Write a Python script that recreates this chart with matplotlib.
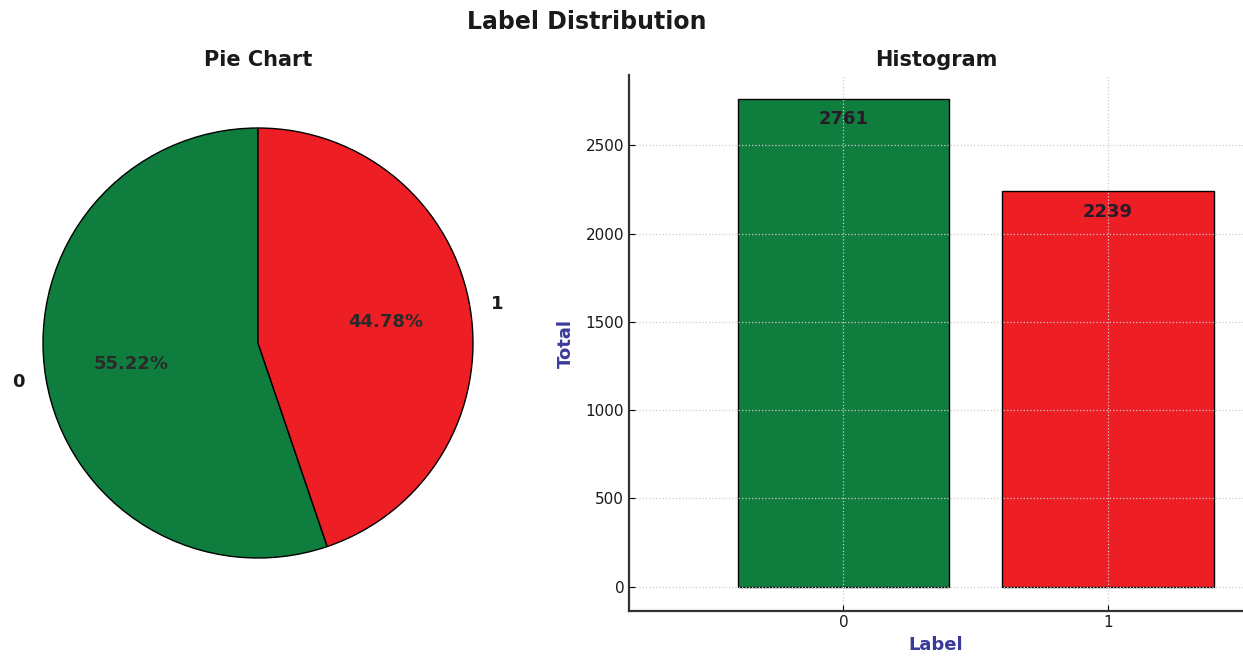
import matplotlib
matplotlib.use("Agg")
import matplotlib.pyplot as plt

# label counts
labels = ["0", "1"]
counts = [2761, 2239]
colors = ["#0e7d3e", "#ed1e24"]

plt.rcParams['font.family'] = ['DejaVu Sans']

fig = plt.figure(figsize=(12.43, 6.56), dpi=100)
W, H = 1243, 656

# Figure title
fig.text(587 / W, 1 - 22 / H, "Label Distribution", ha='center', va='center',
         fontsize=17, fontweight='bold', color='#1a1a1a')

# Pie chart (center and radius in pixels)
cx, cy, r = 258, 343, 215
half = 1.25 * r
ax1 = fig.add_axes([(cx - half) / W, (H - cy - half) / H, 2 * half / W, 2 * half / H])
wedges, texts, autotexts = ax1.pie(
    counts, labels=labels, colors=colors, autopct='%1.2f%%', startangle=90,
    wedgeprops={'edgecolor': 'black', 'linewidth': 1},
    textprops={'fontsize': 13, 'fontweight': 'bold', 'color': '#1a1a1a'})
for t in autotexts:
    t.set_color('#2a2a2a')
ax1.set_xlim(-1.25, 1.25)
ax1.set_ylim(-1.25, 1.25)
fig.text(cx / W, 1 - 60 / H, "Pie Chart", ha='center', va='center',
         fontsize=15, fontweight='bold', color='#1a1a1a')

# Histogram / bar chart
left, right, top, bottom = 629, 1243, 75, 611
ax2 = fig.add_axes([left / W, (H - bottom) / H, (right - left) / W, (bottom - top) / H])
x = list(range(len(labels)))
bars = ax2.bar(x, counts, width=0.8, color=colors, edgecolor='black', linewidth=1)
for xi, v in zip(x, counts):
    ax2.annotate(str(v), (xi, v), xytext=(0, -8), textcoords='offset points',
                 ha='center', va='top', fontsize=13, fontweight='bold', color='#2a1a2a')
ax2.set_xticks(x)
ax2.set_xticklabels(labels)
ax2.set_xlim(-0.81, 1.51)
ax2.set_ylim(-138, 2899)
ax2.grid(True, linestyle=':', color='#cccccc', linewidth=0.9)
ax2.spines['top'].set_visible(False)
ax2.spines['right'].set_visible(False)
ax2.spines['left'].set_linewidth(1.6)
ax2.spines['bottom'].set_linewidth(1.6)
ax2.spines['left'].set_color('#333333')
ax2.spines['bottom'].set_color('#333333')
ax2.tick_params(direction='in', length=4, labelsize=11, labelcolor='#1a1a1a')
ax2.tick_params(axis='x', pad=3)
ax2.set_xlabel("Label", fontsize=13, fontweight='bold', color='#3a3a9a', labelpad=4)
ax2.set_ylabel("Total", fontsize=13, fontweight='bold', color='#3a3a9a', labelpad=8)
fig.text((left + right) / 2 / W, 1 - 60 / H, "Histogram", ha='center', va='center',
         fontsize=15, fontweight='bold', color='#1a1a1a')

plt.savefig("out.png", dpi=100)
